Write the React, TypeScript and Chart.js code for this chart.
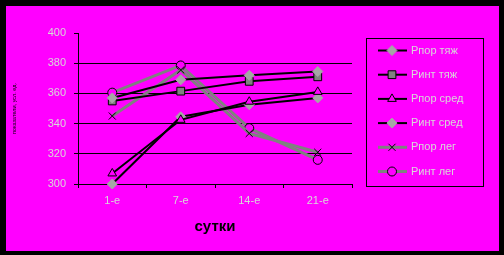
import React, { useEffect, useRef } from 'react';
import { Chart, registerables } from 'chart.js';
import { drawPoint } from 'chart.js/helpers';

Chart.register(...registerables);

const categories = ['1-е', '7-е', '14-е', '21-е'];
const rporTyazh = [357, 369, 372, 374.5];
const rintTyazh = [355, 361.5, 368, 371];
const rporSred = [307, 342.5, 354.5, 361];
const rintSred = [300, 344.5, 352.5, 357];
const rporLeg = [345, 375.5, 333.5, 321];
const rintLeg = [360.5, 378.5, 337, 316];
const yTicks = [300, 320, 340, 360, 380, 400];

const FONT = '"Liberation Sans", Arial, sans-serif';
const LABEL_COLOR = '#d8d8d8';
const MAGENTA = '#ff00ff';

const framePlugin = {
  id: 'frame',
  beforeDraw(chart: any) {
    const { ctx, width, height } = chart;
    ctx.save();
    ctx.fillStyle = '#000';
    ctx.fillRect(0, 0, width, height);
    ctx.fillStyle = MAGENTA;
    ctx.fillRect(6, 6, 493, 245);
    ctx.restore();
  },
};

const legendPlugin = {
  id: 'boxLegend',
  afterDraw(chart: any) {
    const ctx = chart.ctx;
    ctx.save();
    ctx.strokeStyle = '#000';
    ctx.lineWidth = 1;
    ctx.strokeRect(366.5, 38.5, 117, 148);
    chart.data.datasets.forEach((ds: any, i: number) => {
      const y = 50.5 + i * 24.2;
      ctx.strokeStyle = ds.borderColor;
      ctx.lineWidth = ds.borderWidth;
      ctx.beginPath();
      ctx.moveTo(378, y);
      ctx.lineTo(407, y);
      ctx.stroke();
      ctx.fillStyle = ds.pointBackgroundColor;
      ctx.strokeStyle = ds.pointBorderColor;
      ctx.lineWidth = ds.pointBorderWidth;
      drawPoint(ctx, { pointStyle: ds.pointStyle, radius: ds.pointRadius, rotation: 0, borderWidth: ds.pointBorderWidth }, 392, y);
      ctx.fillStyle = LABEL_COLOR;
      ctx.font = '11px ' + FONT;
      ctx.textBaseline = 'middle';
      ctx.textAlign = 'left';
      ctx.fillText(ds.label, 411, y);
    });
    ctx.restore();
  },
};

function series(label: string, data: number[], color: string, width: number, style: string, fill: string, border: string, radius: number) {
  return {
    label,
    data,
    borderColor: color,
    borderWidth: width,
    pointStyle: style,
    pointBackgroundColor: fill,
    pointBorderColor: border,
    pointBorderWidth: 1,
    pointRadius: radius,
    tension: 0,
    fill: false,
    clip: false,
  };
}

export default function App() {
  const ref = useRef<HTMLCanvasElement>(null);
  useEffect(() => {
    if (!ref.current) return;
    const chart = new Chart(ref.current, {
      type: 'line',
      data: {
        labels: categories,
        datasets: [
          series('Рпор тяж', rporTyazh, '#000', 2, 'rectRot', '#a6a6a6', '#a6a6a6', 5),
          series('Ринт тяж', rintTyazh, '#000', 2, 'rect', '#808080', '#000', 5.5),
          series('Рпор сред', rporSred, '#000', 2, 'triangle', MAGENTA, '#000', 5),
          series('Ринт сред', rintSred, '#000', 2, 'rectRot', '#a6a6a6', '#a6a6a6', 5),
          series('Рпор лег', rporLeg, '#808080', 3, 'crossRot', MAGENTA, '#000', 5),
          series('Ринт лег', rintLeg, '#808080', 3, 'circle', MAGENTA, '#000', 4.5),
        ] as any,
      },
      options: {
        responsive: false,
        animation: false,
        events: [],
        layout: { padding: { left: 0, top: 33, right: 152, bottom: 0 } },
        plugins: { legend: { display: false }, tooltip: { enabled: false } },
        scales: {
          x: {
            type: 'category',
            offset: true,
            afterFit: (s: any) => { s.height = 71; },
            grid: { display: true, drawOnChartArea: false, offset: true, tickLength: 4, color: '#000' },
            border: { display: true, color: '#000', width: 1 },
            ticks: { color: LABEL_COLOR, padding: 6, font: { family: FONT, size: 11 } },
            title: { display: true, text: 'сутки', color: '#000', font: { family: FONT, size: 15, weight: 'bold' }, padding: { top: 0, bottom: 19 } },
          },
          y: {
            min: 300,
            max: 400,
            afterFit: (s: any) => { s.width = 78; },
            afterBuildTicks: (s: any) => { s.ticks = yTicks.map((v) => ({ value: v })); },
            grid: {
              color: (c: any) => (c.tick && c.tick.value === 400 ? 'rgba(0,0,0,0)' : '#000'),
              tickColor: '#000',
              tickLength: 4,
            },
            border: { display: true, color: '#000', width: 1 },
            ticks: { color: LABEL_COLOR, padding: 8, font: { family: FONT, size: 11 } },
            title: { display: true, text: 'показатели, усл. ед.', color: '#000', font: { family: FONT, size: 5.5 }, padding: { top: 10.7, bottom: 0 } },
          },
        },
      } as any,
      plugins: [framePlugin, legendPlugin],
    });
    return () => chart.destroy();
  }, []);
  return (
    <div style={{ position: 'absolute', left: 0, top: 0 }}>
      <canvas ref={ref} width={504} height={255} />
    </div>
  );
}
